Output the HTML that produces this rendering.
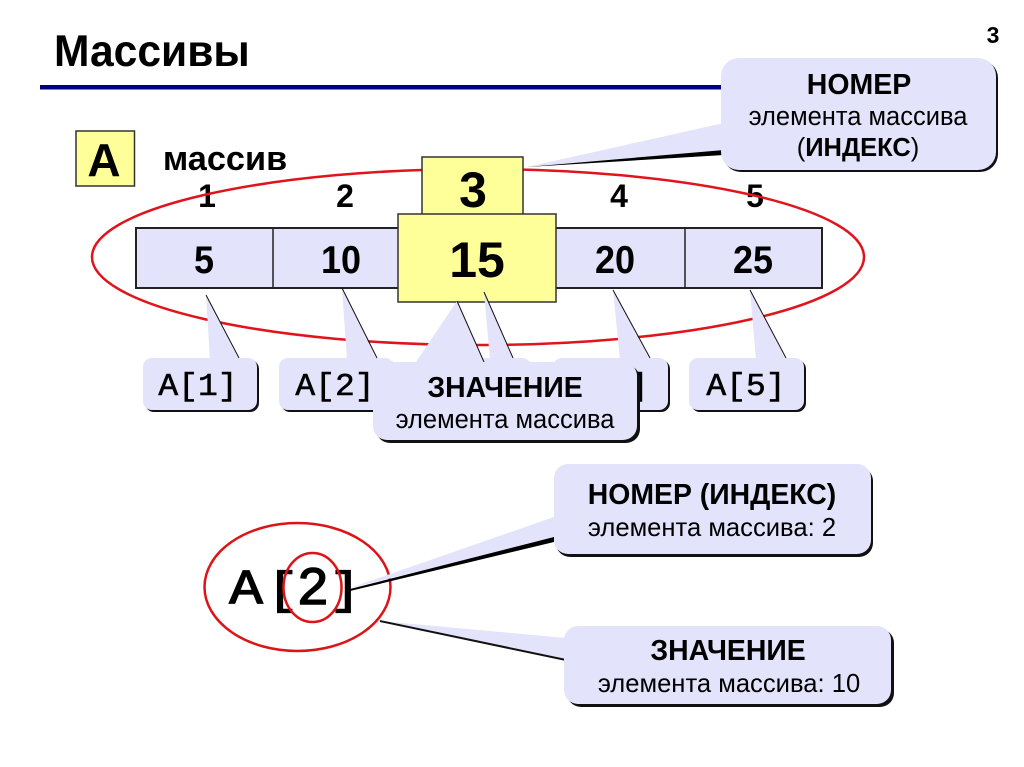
<!DOCTYPE html>
<html><head><meta charset="utf-8"><style>html,body{margin:0;padding:0;background:#fff}svg{display:block}
text{font-family:"Liberation Sans",sans-serif;text-anchor:middle;fill:#000}
.b{font-weight:bold}
text.m{font-family:"Liberation Mono",monospace;stroke:#000;stroke-width:.6}</style></head><body>
<svg width="1024" height="767" viewBox="0 0 1024 767" xmlns="http://www.w3.org/2000/svg">
<rect width="1024" height="767" fill="#fff"/>
<text transform="translate(54,66) scale(1,1.05)" class="b" font-size="42.6" style="text-anchor:start">Массивы</text>
<text x="993" y="43" class="b" font-size="23">3</text>
<rect x="40" y="85" width="690" height="4.5" fill="#000080"/>

<rect x="76" y="131" width="58.500" height="55" fill="#ffff99" stroke="#333" stroke-width="1.5"/>
<text x="104" y="176" class="b" font-size="46">А</text>
<text x="225" y="170" class="b" font-size="34.300">массив</text>

<g class="b" font-size="32">
<text x="207" y="207">1</text><text x="345" y="207">2</text><text x="619" y="207">4</text><text x="755" y="207">5</text>
</g>

<rect x="136" y="228" width="686" height="60" fill="#e3e3fb" stroke="#222" stroke-width="2"/>
<path d="M273 228V288M548 228V288M685 228V288" stroke="#222" stroke-width="1.5"/>
<g class="b" font-size="36">
<text transform="translate(204,273) scale(1,1.08)">5</text>
<text transform="translate(341,273) scale(1,1.08)">10</text>
<text transform="translate(615,273) scale(1,1.08)">20</text>
<text transform="translate(753,273) scale(1,1.08)">25</text>
</g>

<ellipse cx="478" cy="257" rx="386" ry="88" fill="none" stroke="#e0141c" stroke-width="2.5"/>

<rect x="422" y="157" width="101" height="58" fill="#ffff99" stroke="#333" stroke-width="1.5"/>
<text x="473" y="207" class="b" font-size="50">3</text>
<rect x="398" y="214" width="158" height="88" fill="#ffff99" stroke="#333" stroke-width="1.5"/>
<text x="477" y="277" class="b" font-size="50">15</text>

<!-- top callout -->
<path d="M527 167L724 123V150Z" fill="#e3e3fb"/>
<path d="M527 167L724 150V155Z" fill="#000"/>
<rect x="723" y="60" width="275" height="112" rx="18" fill="#111"/>
<rect x="721" y="58" width="275" height="112" rx="18" fill="#e3e3fb"/>
<text x="859" y="94" class="b" font-size="28.500">НОМЕР</text>
<text x="858" y="125" font-size="25.500">элемента массива</text>
<text x="858" y="156" font-size="25.500">(<tspan class="b">ИНДЕКС</tspan>)</text>

<!-- small callouts -->
<g fill="#111">
<rect x="145" y="360" width="114" height="52" rx="9"/>
<rect x="281" y="360" width="115" height="52" rx="9"/>
<rect x="418" y="360" width="115" height="52" rx="9"/>
<rect x="555" y="360" width="115" height="52" rx="9"/>
<rect x="691" y="360" width="115" height="52" rx="9"/>
</g>
<g fill="#e3e3fb">
<path d="M206 295L210 360H239Z"/>
<path d="M342 288L347 360H377Z"/>
<path d="M484 292L490 360H513Z"/>
<path d="M613 290L620 360H650Z"/>
<path d="M750 290L756 360H786Z"/>
<rect x="143" y="358" width="114" height="52" rx="9"/>
<rect x="279" y="358" width="115" height="52" rx="9"/>
<rect x="416" y="358" width="115" height="52" rx="9"/>
<rect x="553" y="358" width="115" height="52" rx="9"/>
<rect x="689" y="358" width="115" height="52" rx="9"/>
</g>
<path d="M206 295L239 358M342 288L377 358M484 292L513 358M613 290L650 358M750 290L786 358" stroke="#111" stroke-width="1" fill="none"/>
<g font-size="33">
<text class="m" transform="translate(198,395) scale(1,.94)">A[1]</text>
<text class="m" transform="translate(335,395) scale(1,.94)">A[2]</text>
<text class="m" transform="translate(609,395) scale(1,.94)">A[4]</text>
<text class="m" transform="translate(746,395) scale(1,.94)">A[5]</text>
</g>

<!-- value callout -->
<rect x="376" y="365" width="264" height="78" rx="14" fill="#111"/>
<path d="M457 301L416 362H484Z" fill="#e3e3fb"/>
<path d="M457 301L484 362" stroke="#111" stroke-width="1" fill="none"/>
<rect x="373" y="362" width="264" height="78" rx="14" fill="#e3e3fb"/>
<text x="505" y="397" class="b" font-size="28.400">ЗНАЧЕНИЕ</text>
<text x="505" y="428" font-size="25.500">элемента массива</text>

<!-- A[2] -->
<ellipse cx="297.500" cy="587" rx="93" ry="64" fill="#fff" stroke="#dc1418" stroke-width="2.5"/>
<path d="M350 588L554 517V539Z" fill="#e3e3fb"/>
<path d="M350 589L554 537V542L350 591Z" fill="#000"/>
<path d="M380 621L566 638V660Z" fill="#e3e3fb"/>
<path d="M380 621L566 660" stroke="#111" stroke-width="2"/>
<text class="m" transform="translate(246,603) scale(1,.87)" font-size="56" style="stroke-width:1.4">A</text>
<text class="m" transform="translate(283,603) scale(1,.85)" font-size="52" style="stroke-width:1.6">[</text>
<text class="m" transform="translate(313,604)" font-size="54" style="stroke-width:1.4">2</text>
<text class="m" transform="translate(345,603) scale(1,.85)" font-size="52" style="stroke-width:1.6">]</text>
<ellipse cx="312.500" cy="587.500" rx="29" ry="34.500" fill="none" stroke="#dc1418" stroke-width="2.5"/>

<rect x="556" y="467" width="317" height="90" rx="14" fill="#111"/>
<rect x="554" y="464" width="317" height="90" rx="14" fill="#e3e3fb"/>
<text x="712" y="504" class="b" font-size="28.400">НОМЕР (ИНДЕКС)</text>
<text x="712" y="536" font-size="25.600">элемента массива: 2</text>

<rect x="567" y="629" width="327" height="78" rx="14" fill="#111"/>
<rect x="564" y="626" width="327" height="78" rx="14" fill="#e3e3fb"/>
<text x="728" y="660" class="b" font-size="28.400">ЗНАЧЕНИЕ</text>
<text x="729" y="692" font-size="25.600">элемента массива: 10</text>
</svg>
</body></html>
